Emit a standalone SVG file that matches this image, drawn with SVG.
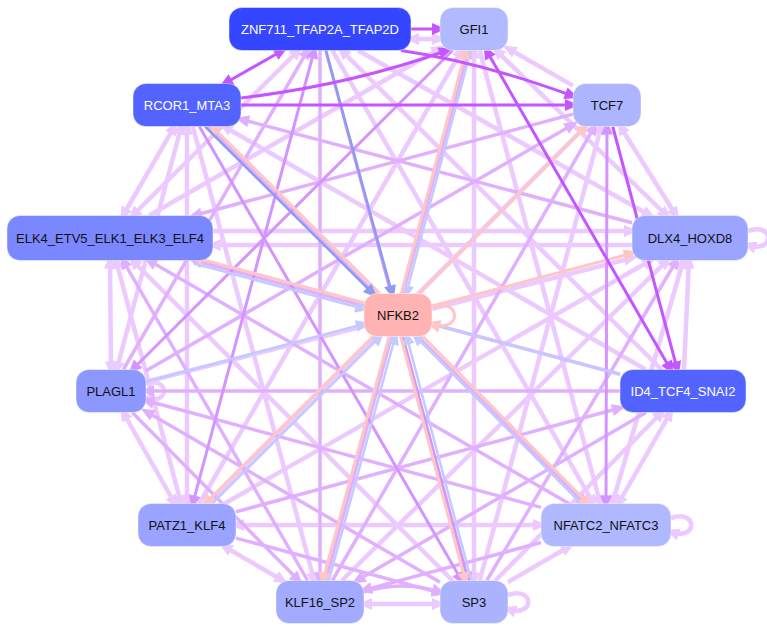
<svg xmlns="http://www.w3.org/2000/svg" width="767" height="632" viewBox="0 0 767 632">
<style>
.e{fill:none;stroke-linecap:butt}
.pale{stroke:#ecc9ff;stroke-width:4.5}
.lav{stroke:#e0b0ff;stroke-width:3.5}
.mid{stroke:#d494ff;stroke-width:3}
.str{stroke:#c555ff;stroke-width:3}
.pink{stroke:#ffc6c6;stroke-width:3}
.lb{stroke:#c3caff;stroke-width:2.5}
.bl{stroke:#8c9cf0;stroke-width:2.5}
.pale.s{marker-start:url(#mp)}.pale.t{marker-end:url(#mp)}
.lav.s{marker-start:url(#ml)}.lav.t{marker-end:url(#ml)}
.mid.s{marker-start:url(#mm)}.mid.t{marker-end:url(#mm)}
.str.s{marker-start:url(#ms)}.str.t{marker-end:url(#ms)}
.pink.s{marker-start:url(#mk)}.pink.t{marker-end:url(#mk)}
.lb.s{marker-start:url(#mb)}.lb.t{marker-end:url(#mb)}
.bl.s{marker-start:url(#mB)}.bl.t{marker-end:url(#mB)}
.node rect{stroke:#ffffff;stroke-opacity:0.45;stroke-width:1}
.node text{font-family:"Liberation Sans",Arial,sans-serif;font-size:13px;text-anchor:middle;dominant-baseline:central;fill:#111}
.node text.w{fill:#ffffff}
</style>
<defs>
<marker id="mp" markerUnits="userSpaceOnUse" markerWidth="14" markerHeight="12" refX="8" refY="6" orient="auto-start-reverse" overflow="visible"><path d="M0,0 L14,6 L0,12 z" fill="#ecc9ff"/></marker>
<marker id="ml" markerUnits="userSpaceOnUse" markerWidth="14" markerHeight="12" refX="8" refY="6" orient="auto-start-reverse" overflow="visible"><path d="M0,0 L14,6 L0,12 z" fill="#e0b0ff"/></marker>
<marker id="mm" markerUnits="userSpaceOnUse" markerWidth="14" markerHeight="12" refX="8" refY="6" orient="auto-start-reverse" overflow="visible"><path d="M0,0 L14,6 L0,12 z" fill="#d494ff"/></marker>
<marker id="ms" markerUnits="userSpaceOnUse" markerWidth="14" markerHeight="12" refX="8" refY="6" orient="auto-start-reverse" overflow="visible"><path d="M0,0 L14,6 L0,12 z" fill="#c555ff"/></marker>
<marker id="mk" markerUnits="userSpaceOnUse" markerWidth="14" markerHeight="12" refX="8" refY="6" orient="auto-start-reverse" overflow="visible"><path d="M0,0 L14,6 L0,12 z" fill="#ffc6c6"/></marker>
<marker id="mb" markerUnits="userSpaceOnUse" markerWidth="14" markerHeight="12" refX="8" refY="6" orient="auto-start-reverse" overflow="visible"><path d="M0,0 L14,6 L0,12 z" fill="#c3caff"/></marker>
<marker id="mB" markerUnits="userSpaceOnUse" markerWidth="14" markerHeight="12" refX="8" refY="6" orient="auto-start-reverse" overflow="visible"><path d="M0,0 L14,6 L0,12 z" fill="#8c9cf0"/></marker>
</defs>
<rect width="767" height="632" fill="#ffffff"/>
<g id="edges">
<!-- pale -->
<path class="e pale s t" d="M411,39 L440,39"/>
<path class="e pale s t" d="M298.4,50.5 L132.6,215.5"/>
<path class="e pale t" d="M358.1,50.5 L650.2,215.5"/>
<path class="e pale s" d="M341.5,50.5 L661.5,369.5"/>
<path class="e pale t" d="M332.4,50.5 L593.6,503.5"/>
<path class="e pale s" d="M508,48.4 L573,85.6"/>
<path class="e pale s" d="M440,48.5 L149.2,215.5"/>
<path class="e pale s t" d="M496.2,50.5 L666.7,215.5"/>
<path class="e pale s" d="M461.6,50.5 L199.4,503.5"/>
<path class="e pale t" d="M479.7,50.5 L600.3,503.5"/>
<path class="e pale s t" d="M474,50.5 L474,580.5"/>
<path class="e pale s t" d="M174.5,126.5 L123,215.5"/>
<path class="e pale s t" d="M181.3,126.5 L116.7,369.5"/>
<path class="e pale s" d="M224.3,126.5 L645.7,369.5"/>
<path class="e pale s t" d="M187,126.5 L187,503.5"/>
<path class="e pale t" d="M192.8,126.5 L314.2,580.5"/>
<path class="e pale s t" d="M620.4,126.5 L676,215.5"/>
<path class="e pale s" d="M585.5,126.5 L208.5,503.5"/>
<path class="e pale s" d="M601.2,126.5 L479.8,580.5"/>
<path class="e pale t" d="M213,231 L632,231"/>
<path class="e pale s" d="M213,245 L632,245"/>
<path class="e pale s t" d="M110,260.5 L111,369.5"/>
<path class="e pale s t" d="M116,260.5 L181.2,503.5"/>
<path class="e pale s" d="M132.5,260.5 L452.5,580.5"/>
<path class="e pale s" d="M632,258 L146,381.7"/>
<path class="e pale s" d="M689,260.5 L684,369.5"/>
<path class="e pale s" d="M650.6,260.5 L224.7,503.5"/>
<path class="e pale s t" d="M683.4,260.5 L612.3,503.5"/>
<path class="e pale s" d="M667.1,260.5 L341.9,580.5"/>
<path class="e pale s t" d="M123.2,412.5 L174.8,503.5"/>
<path class="e pale s t" d="M670.6,412.5 L618.4,503.5"/>
<path class="e pale s" d="M661.7,412.5 L495.3,580.5"/>
<path class="e pale s t" d="M236,525 L541,525"/>
<path class="e pale s t" d="M224.1,546.5 L282.9,580.5"/>
<path class="e pale s" d="M569.1,546.5 L508,582.1"/>
<path class="e pale s t" d="M364,604 L440,604"/>
<path class="e pale t" d="M146,384 C170,376 170,406 146,398"/>
<path class="e pale t" d="M748,231 C775,222 775,254 748,245"/>
<path class="e pale t" d="M671,518 C698,509 698,541 671,532"/>
<path class="e pale t" d="M508,595 C535,586 535,618 508,609"/>
<!-- lavender -->
<path class="e lav s" d="M307.6,50.5 L123.4,369.5"/>
<path class="e lav t" d="M320,50.5 L320,580.5"/>
<path class="e lav s" d="M468.2,50.5 L325.8,580.5"/>
<path class="e lav s" d="M241,119.3 L632,222.7"/>
<path class="e lav t" d="M208.5,126.5 L584.5,503.5"/>
<path class="e lav t" d="M573,114.1 L194,215.5"/>
<path class="e lav s" d="M573,124.6 L146,370.8"/>
<path class="e lav s" d="M594.6,126.5 L332.4,580.5"/>
<path class="e lav s" d="M194.2,260.5 L620,374.2"/>
<path class="e lav s" d="M148.9,260.5 L568.9,503.5"/>
<path class="e lav s" d="M123,260.5 L307.6,580.5"/>
<path class="e lav s" d="M676.6,260.5 L486.8,580.5"/>
<path class="e lav s" d="M146,391 L620,391"/>
<path class="e lav s" d="M146,400.5 L541,507.4"/>
<path class="e lav t" d="M132.3,412.5 L298.7,580.5"/>
<path class="e lav s" d="M146,411.4 L440,582.3"/>
<path class="e lav s" d="M620,408 L236,511.8"/>
<path class="e lav t" d="M646,412.5 L357,580.5"/>
<path class="e lav t" d="M236,538.1 L440,592.9"/>
<path class="e lav t" d="M541,542.5 L364,590.1"/>
<path class="e lav t" d="M364,592 Q402,580 440,592"/>
<!-- mid -->
<path class="e mid s t" d="M314.2,50.5 L192.8,503.5"/>
<path class="e mid t" d="M325.8,50.5 L468.2,580.5"/>
<path class="e mid s t" d="M607,126.5 L606,503.5"/>
<path class="e mid t" d="M452.5,50.5 L132.5,369.5"/>
<path class="e mid t" d="M199.4,126.5 L461.6,580.5"/>
<!-- light blue (to NFKB2) -->
<path class="e lb t" d="M470.8,50.5 L406.2,293.5"/>
<path class="e lb t" d="M193.3,263.4 L363.2,308.8"/>
<path class="e lb s" d="M364,324 L146,381.7"/>
<path class="e lb s" d="M432,324.1 L620,374.2"/>
<path class="e lb s" d="M380,336.5 L212.2,503.5"/>
<path class="e lb s" d="M415.8,336.5 L581.2,503.5"/>
<path class="e lb s" d="M395.2,336.5 L328.8,580.5"/>
<path class="e lb s" d="M406.7,336.5 L471.3,580.5"/>
<!-- pink (from NFKB2) -->
<path class="e pink s" d="M465.8,50.5 L401.2,293.5"/>
<path class="e pink s" d="M212.1,126.5 L379.9,293.5"/>
<path class="e pink s" d="M585.6,126.5 L419.4,293.5"/>
<path class="e pink s" d="M195,257.6 L364.8,303"/>
<path class="e pink s" d="M632,253.3 L432,306"/>
<path class="e pink t" d="M373,336.5 L205.2,503.5"/>
<path class="e pink t" d="M422.8,336.5 L588.2,503.5"/>
<path class="e pink t" d="M389.2,336.5 L322.8,580.5"/>
<path class="e pink t" d="M400.7,336.5 L465.3,580.5"/>
<path class="e pink t" d="M432,307 C462,297 462,334 432,324"/>
<!-- blue -->
<path class="e bl t" d="M325.9,50.5 L392.1,293.5"/>
<path class="e bl t" d="M205.1,126.5 L372.9,293.5"/>
<!-- strong -->
<path class="e str t" d="M411,29 L440,29"/>
<path class="e str s t" d="M282.4,50.5 L224.6,83.5"/>
<path class="e str t" d="M401,50.5 Q480,62 573,96"/>
<path class="e str t" d="M241,98 Q350,85 447,50.5"/>
<path class="e str s t" d="M486.4,50.5 L670.6,369.5"/>
<path class="e str t" d="M241,105 L573,105"/>
<path class="e str t" d="M612.7,126.5 L677.3,369.5"/>
</g>
<g id="ZNF711_TFAP2A_TFAP2D" class="node"><rect x="229" y="7.5" width="182" height="43" rx="13" fill="#3446ff"/><text class="w" x="320" y="29">ZNF711_TFAP2A_TFAP2D</text></g>
<g id="GFI1" class="node"><rect x="440" y="7.5" width="68" height="43" rx="13" fill="#b1b9ff"/><text x="474" y="29">GFI1</text></g>
<g id="RCOR1_MTA3" class="node"><rect x="133" y="83.5" width="108" height="43" rx="13" fill="#5363ff"/><text class="w" x="187" y="105">RCOR1_MTA3</text></g>
<g id="TCF7" class="node"><rect x="573" y="83.5" width="68" height="43" rx="13" fill="#adb5ff"/><text x="607" y="105">TCF7</text></g>
<g id="ELK4_ETV5_ELK1_ELK3_ELF4" class="node"><rect x="7" y="215.5" width="206" height="45" rx="13" fill="#7b87ff"/><text x="110" y="238">ELK4_ETV5_ELK1_ELK3_ELF4</text></g>
<g id="DLX4_HOXD8" class="node"><rect x="632" y="215.5" width="116" height="45" rx="13" fill="#9ba5ff"/><text x="690" y="238">DLX4_HOXD8</text></g>
<g id="NFKB2" class="node"><rect x="364" y="293.5" width="68" height="43" rx="13" fill="#ffb3b3"/><text x="398" y="315">NFKB2</text></g>
<g id="PLAGL1" class="node"><rect x="76" y="369.5" width="70" height="43" rx="13" fill="#8d98ff"/><text x="111" y="391">PLAGL1</text></g>
<g id="ID4_TCF4_SNAI2" class="node"><rect x="620" y="369.5" width="126" height="43" rx="13" fill="#5363ff"/><text class="w" x="683" y="391">ID4_TCF4_SNAI2</text></g>
<g id="PATZ1_KLF4" class="node"><rect x="138" y="503.5" width="98" height="43" rx="13" fill="#9aa3ff"/><text x="187" y="525">PATZ1_KLF4</text></g>
<g id="NFATC2_NFATC3" class="node"><rect x="541" y="503.5" width="130" height="43" rx="13" fill="#b0b8ff"/><text x="606" y="525">NFATC2_NFATC3</text></g>
<g id="KLF16_SP2" class="node"><rect x="276" y="580.5" width="88" height="43" rx="13" fill="#a2abff"/><text x="320" y="602">KLF16_SP2</text></g>
<g id="SP3" class="node"><rect x="440" y="580.5" width="68" height="43" rx="13" fill="#abb3ff"/><text x="474" y="602">SP3</text></g>
</svg>
